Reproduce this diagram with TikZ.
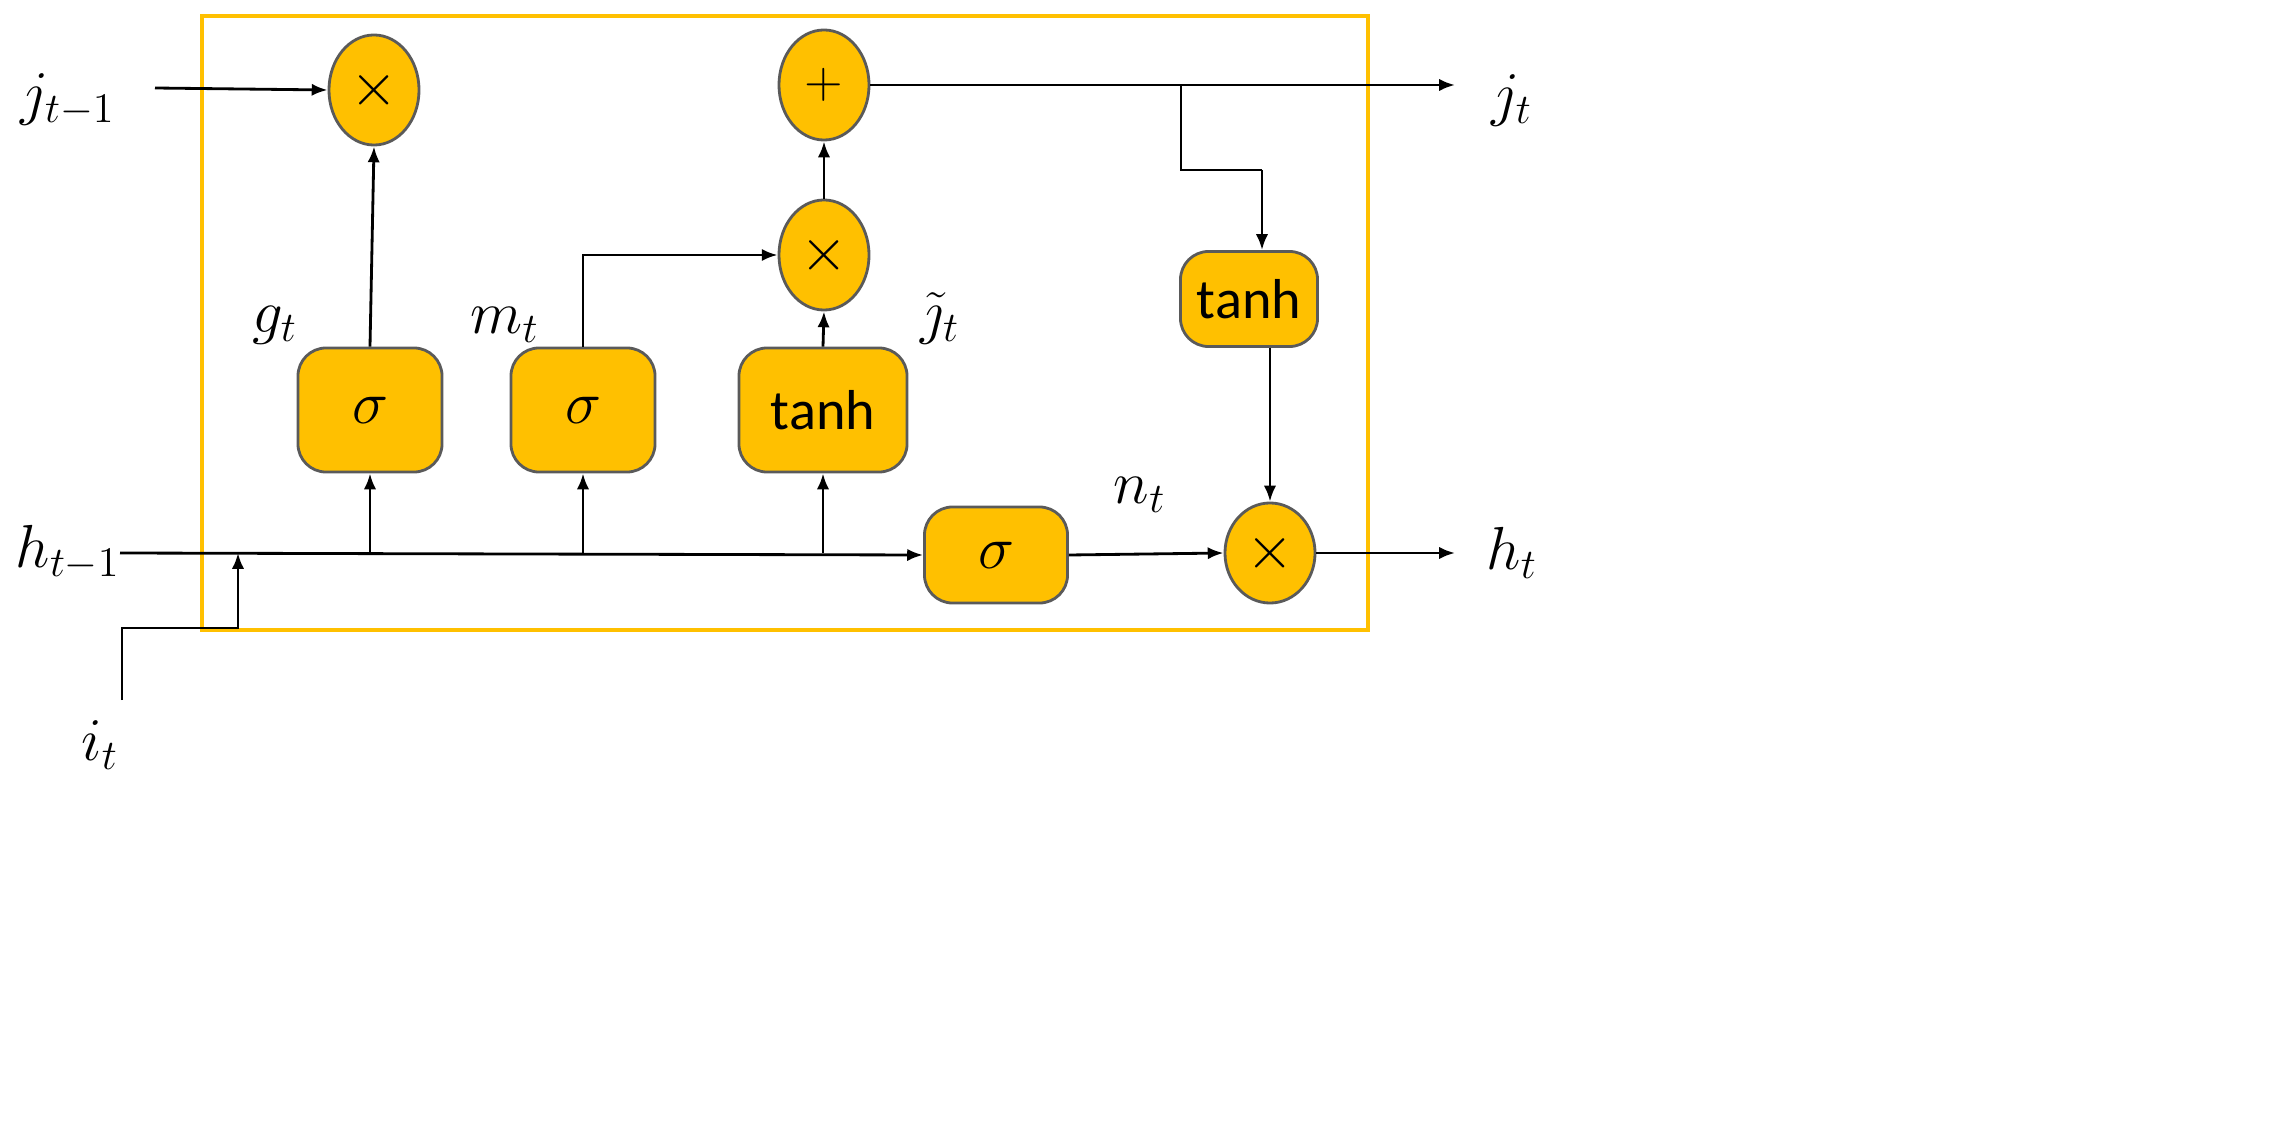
\documentclass[tikz,border=0pt]{standalone}
\usepackage{fontspec}
\setsansfont{Carlito}
\usetikzlibrary{arrows.meta,shapes.geometric}
\definecolor{og}{HTML}{FFC000}
\definecolor{bd}{HTML}{5A5A5A}
\begin{document}
\begin{tikzpicture}[x=0.01cm,y=-0.01cm,
  op/.style={ellipse,draw=bd,fill=og,line width=0.8pt,inner sep=0pt,font=\fontsize{18}{20}\selectfont},
  bx/.style={rounded corners=8pt,draw=bd,fill=og,line width=0.8pt,inner sep=0pt,font=\sffamily\fontsize{16}{18}\selectfont},
  lab/.style={font=\fontsize{17}{20}\selectfont},
  ar/.style={-{Latex[length=4.5pt,width=3.5pt]},line width=0.8pt},
  ln/.style={line width=0.8pt}]
\useasboundingbox (0,0) rectangle (2291,1140);
\draw[og,line width=1.2pt] (202,16) rectangle (1368,630);
% operators
\node[op,minimum width=0.9cm,minimum height=1.1cm] (m1) at (374,90) {$\times$};
\node[op,minimum width=0.9cm,minimum height=1.1cm] (p) at (824,85) {\fontsize{14}{16}\selectfont$+$};
\node[op,minimum width=0.9cm,minimum height=1.1cm] (m2) at (824,255) {$\times$};
\node[op,minimum width=0.9cm,minimum height=1.0cm] (m3) at (1270,553) {$\times$};
% boxes
\node[bx,minimum width=1.44cm,minimum height=1.24cm] (s1) at (370,410) {\fontsize{19}{20}\selectfont$\sigma$};
\node[bx,minimum width=1.44cm,minimum height=1.24cm] (s2) at (583,410) {\fontsize{19}{20}\selectfont$\sigma$};
\node[bx,minimum width=1.68cm,minimum height=1.24cm] (t1) at (823,410) {tanh};
\node[bx,minimum width=1.43cm,minimum height=0.96cm] (s4) at (996,555) {\fontsize{19}{20}\selectfont$\sigma$};
\node[bx,minimum width=1.37cm,minimum height=0.95cm] (t2) at (1249,299) {tanh};
% labels
\node[lab] (jt1) at (68,100) {$j_{t-1}$};
\node[lab] (jt) at (1512,100) {$j_t$};
\node[lab] (ht1) at (68,553) {$h_{t-1}$};
\node[lab] (ht) at (1512,553) {$h_t$};
\node[lab] (it) at (100,745) {$i_t$};
\node[lab] (gt) at (275,325) {$g_t$};
\node[lab] (mt) at (505,325) {$m_t$};
\node[lab] (jtt) at (940,318) {$\tilde{\jmath}_t$};
\node[lab] (nt) at (1140,495) {$n_t$};
% coordinates
\coordinate (a0) at (155,88);
\coordinate (a1) at (1455,85);
\coordinate (b0) at (1181,85);
\coordinate (b1) at (1181,170);
\coordinate (b2) at (1262,170);
\coordinate (h0) at (120,553);
\coordinate (h1) at (1455,553);
\coordinate (i0) at (122,700);
\coordinate (i1) at (122,628);
\coordinate (i2) at (238,628);
\coordinate (i3) at (238,553);
\coordinate (c1) at (370,553);
\coordinate (c2) at (583,553);
\coordinate (c3) at (823,553);
\coordinate (d1) at (583,255);
% connectors
\draw[ar] (a0) -- (m1.west);
\draw[ar] (p.east) -- (a1);
\draw[ln] (b0) -- (b1) -- (b2);
\draw[ar] (b2) -- (b2 |- t2.north);
\draw[ar] (t2.south -| m3.north) -- (m3.north);
\draw[ar] (h0) -- (s4.west);
\draw[ar] (s4.east) -- (m3.west);
\draw[ar] (m3.east) -- (h1);
\draw[ar] (i0) -- (i1) -- (i2) -- (i3);
\draw[ar] (c1) -- (s1.south);
\draw[ar] (s1.north) -- (m1.south);
\draw[ar] (c2) -- (s2.south);
\draw[ar] (s2.north) -- (d1) -- (m2.west);
\draw[ar] (c3) -- (t1.south);
\draw[ar] (t1.north) -- (m2.south);
\draw[ar] (m2.north) -- (p.south);
\end{tikzpicture}
\end{document}
